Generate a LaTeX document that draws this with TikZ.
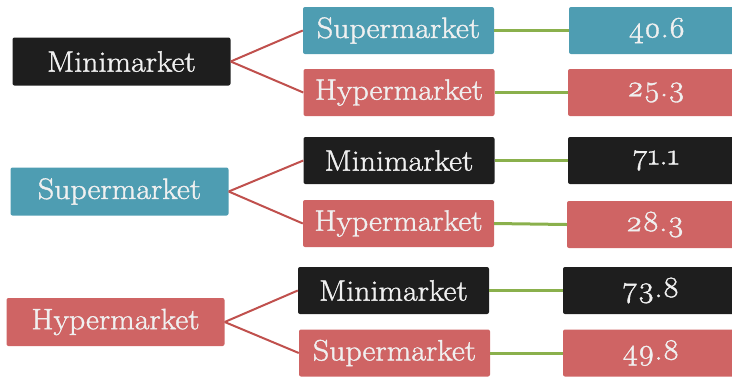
\documentclass[tikz,border=0pt]{standalone}
\usepackage{fontspec}
\newfontfamily\boxfont{Latin Modern Roman}[Numbers=OldStyle, FakeBold=1.3, FakeStretch=1.08]
\definecolor{cdark}{HTML}{1E1E1E}
\definecolor{cteal}{HTML}{4E9DB2}
\definecolor{cred}{HTML}{CF6464}
\definecolor{clink}{HTML}{C0504D}
\definecolor{cgreen}{HTML}{8AB04C}
\begin{document}
\begin{tikzpicture}[x=1pt,y=-1pt,
  box/.style={rectangle, rounded corners=2pt, inner sep=0pt, text=white!94!black,
    font=\boxfont\fontsize{29.5}{32}\selectfont},
  lbox/.style={box, minimum width=218pt, minimum height=48pt},
  mbox/.style={box, minimum width=191pt, minimum height=47pt},
  rbox/.style={box, minimum width=176pt, minimum height=47pt},
  redlink/.style={draw=clink, line width=2pt},
  greenlink/.style={draw=cgreen, line width=3pt}]
\useasboundingbox (0,0) rectangle (732,376);
\clip (0,0) rectangle (732,376);
% left column
\node[lbox, fill=cdark] (L1) at (121.5,61.5) {Minimarket};
\node[lbox, fill=cteal] (L2) at (119.5,191.5) {Supermarket};
\node[lbox, fill=cred]  (L3) at (115.5,322) {Hypermarket};
% middle column
\node[mbox, fill=cteal] (M1) at (398.5,30.5) {Supermarket};
\node[mbox, fill=cred]  (M2) at (399,92.5) {Hypermarket};
\node[mbox, fill=cdark] (M3) at (399,160.5) {Minimarket};
\node[mbox, fill=cred]  (M4) at (398.5,223.5) {Hypermarket};
\node[mbox, fill=cdark] (M5) at (393.5,290.5) {Minimarket};
\node[mbox, fill=cred]  (M6) at (394.5,353) {Supermarket};
% right column
\node[rbox, fill=cteal] (R1) at (657,30.5) {40.6};
\node[rbox, fill=cred]  (R2) at (656,92.5) {25.3};
\node[rbox, fill=cdark] (R3) at (656,160.5) {71.1};
\node[rbox, fill=cred]  (R4) at (655,224.5) {28.3};
\node[rbox, fill=cdark] (R5) at (651,290.5) {73.8};
\node[rbox, fill=cred]  (R6) at (651,353) {49.8};
% red links
\draw[redlink] (L1.east) -- (M1.west);
\draw[redlink] (L1.east) -- (M2.west);
\draw[redlink] (L2.east) -- (M3.west);
\draw[redlink] (L2.east) -- (M4.west);
\draw[redlink] (L3.east) -- (M5.west);
\draw[redlink] (L3.east) -- (M6.west);
% green links
\draw[greenlink] (M1.east) -- (R1.west);
\draw[greenlink] (M2.east) -- (R2.west);
\draw[greenlink] (M3.east) -- (R3.west);
\draw[greenlink] (M4.east) -- (R4.west);
\draw[greenlink] (M5.east) -- (R5.west);
\draw[greenlink] (M6.east) -- (R6.west);
\end{tikzpicture}
\end{document}
